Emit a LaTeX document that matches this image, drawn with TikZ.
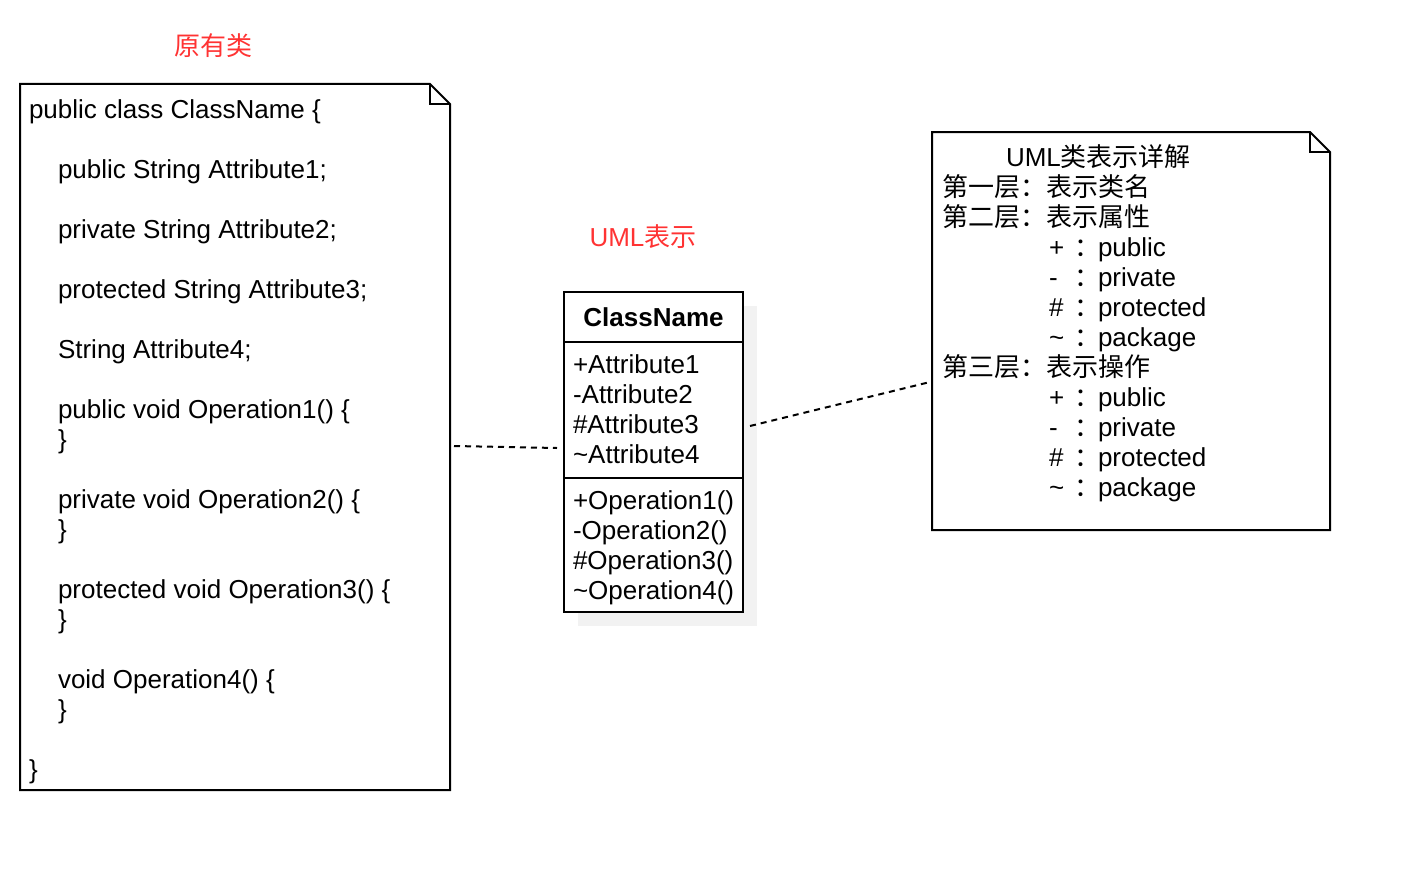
\documentclass[tikz,border=0pt]{standalone}
\usepackage{fontspec}
\setmainfont{Liberation Sans}
\newfontfamily\cjk{Noto Sans CJK SC}
\usetikzlibrary{shadows}
\definecolor{redlbl}{RGB}{255,51,51}
\definecolor{shadowgray}{RGB}{242,242,242}
\newcommand{\vis}[2]{\makebox[25pt][l]{#1}\makebox[24pt][l]{\cjk ：}#2}
\begin{document}
\begin{tikzpicture}[x=1pt,y=-1pt,
  every node/.style={inner sep=0pt,outer sep=0pt,font=\fontsize{26}{30}\selectfont},
  border/.style={line width=2pt,line join=miter},
  notebox/.style={draw=none,anchor=north west},
  txt/.style={anchor=base west},
  redtxt/.style={anchor=base,text=redlbl},
  dashline/.style={line width=2pt,dash pattern=on 6pt off 5pt}]
\useasboundingbox (0,0) rectangle (1412,872);

% red labels
\node[redtxt] (lblsrc) at (213,56) {{\cjk 原有类}};
\node[redtxt] (lbluml) at (643,246) {UML{\cjk 表示}};

% left note
\node[notebox,minimum width=430pt,minimum height=706pt] (srcnote) at (20,84) {};
\draw[border] (srcnote.south west) -- (srcnote.north west) -- ([xshift=-20pt]srcnote.north east)
  -- ([yshift=-20pt]srcnote.north east) -- (srcnote.south east) -- cycle;
\draw[border] ([xshift=-20pt]srcnote.north east) -- ([xshift=-20pt,yshift=-20pt]srcnote.north east)
  -- ([yshift=-20pt]srcnote.north east);
\foreach \i/\xx/\yy/\t in {
  1/29/118/public class ClassName \{,
  2/58/178/public String Attribute1;,
  3/58/238/private String Attribute2;,
  4/58/298/protected String Attribute3;,
  5/58/358/String Attribute4;,
  6/58/418/public void Operation1() \{,
  7/58/448/\},
  8/58/508/private void Operation2() \{,
  9/58/538/\},
  10/58/598/protected void Operation3() \{,
  11/58/628/\},
  12/58/688/void Operation4() \{,
  13/58/718/\},
  14/29/778/\}}
  \node[txt] (src\i) at (\xx,\yy) {\t};

% class box
\node[draw,fill=white,border,anchor=north west,minimum width=179pt,minimum height=320pt,
  drop shadow={shadow xshift=14pt,shadow yshift=-14pt,fill=shadowgray,opacity=1}] (cls) at (564,292) {};
\draw[border] ([yshift=-50pt]cls.north west) -- ([yshift=-50pt]cls.north east);
\draw[border] ([yshift=-186pt]cls.north west) -- ([yshift=-186pt]cls.north east);
\node[anchor=base,font=\fontsize{26}{30}\selectfont\bfseries] (clsname) at (653.5,326) {ClassName};
\foreach \i/\yy/\t in {
  1/373/+Attribute1,
  2/403/-Attribute2,
  3/433/\#Attribute3,
  4/463/\textasciitilde Attribute4,
  5/509/+Operation1(),
  6/539/-Operation2(),
  7/569/\#Operation3(),
  8/599/\textasciitilde Operation4()}
  \node[txt] (mem\i) at (573,\yy) {\t};

% right note
\node[notebox,minimum width=398pt,minimum height=398pt] (umlnote) at (932,132) {};
\draw[border] (umlnote.south west) -- (umlnote.north west) -- ([xshift=-20pt]umlnote.north east)
  -- ([yshift=-20pt]umlnote.north east) -- (umlnote.south east) -- cycle;
\draw[border] ([xshift=-20pt]umlnote.north east) -- ([xshift=-20pt,yshift=-20pt]umlnote.north east)
  -- ([yshift=-20pt]umlnote.north east);
\foreach \i/\xx/\yy/\t in {
  1/1006/166/UML{\cjk 类表示详解},
  2/942/196/{\cjk 第一层：表示类名},
  3/942/226/{\cjk 第二层：表示属性},
  4/1049/256/\vis{+}{public},
  5/1049/286/\vis{-}{private},
  6/1049/316/\vis{\#}{protected},
  7/1049/346/\vis{\textasciitilde}{package},
  8/942/376/{\cjk 第三层：表示操作},
  9/1049/406/\vis{+}{public},
  10/1049/436/\vis{-}{private},
  11/1049/466/\vis{\#}{protected},
  12/1049/496/\vis{\textasciitilde}{package}}
  \node[txt] (uml\i) at (\xx,\yy) {\t};

% connectors
\draw[dashline] ([shift={(4pt,-9pt)}]srcnote.east) -- ([shift={(-7pt,4pt)}]cls.west);
\draw[dashline] ([shift={(7pt,26pt)}]cls.east) -- ([shift={(-2pt,-51pt)}]umlnote.west);
\end{tikzpicture}
\end{document}
